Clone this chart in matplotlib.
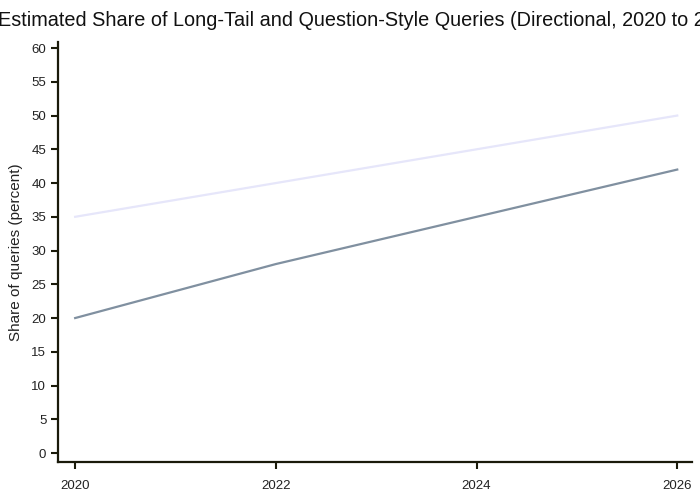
import matplotlib
matplotlib.use("Agg")
import matplotlib.pyplot as plt

years = [2020, 2022, 2024, 2026]
long_tail = [35, 40, 45, 50]
question_style = [20, 28, 35, 42]
x_ticks = [2020, 2022, 2024, 2026]
y_ticks = list(range(0, 65, 5))

plt.rcParams['font.family'] = ['Liberation Sans', 'DejaVu Sans']

fig = plt.figure(figsize=(7, 5), dpi=100)
ax = fig.add_axes([0.083, 0.076, 0.906, 0.84])

ax.plot(years, long_tail, color='#e6e6fa', lw=1.6)
ax.plot(years, question_style, color='#8090a0', lw=1.6)

ax.set_xlim(2019.83, 2026.15)
ax.set_ylim(-1.33, 60.9)
ax.set_xticks(x_ticks)
ax.set_xticklabels([str(v) for v in x_ticks])
ax.set_yticks(y_ticks)

for s in ['top', 'right']:
    ax.spines[s].set_visible(False)
for s in ['left', 'bottom']:
    ax.spines[s].set_color('#1a1a0a')
    ax.spines[s].set_linewidth(1.6)
ax.tick_params(axis='both', colors='#1a1a0a', labelcolor='#222222', labelsize=9.5,
               length=5, width=1.5, direction='out')
ax.tick_params(axis='x', pad=8)

ax.set_ylabel('Share of queries (percent)', fontsize=11, color='#222222', labelpad=6)
fig.text(0.531, 0.958, 'Estimated Share of Long-Tail and Question-Style Queries (Directional, 2020 to 2026)',
         ha='center', va='center', fontsize=14.3, color='#111111')

fig.savefig('out.png', dpi=100)
